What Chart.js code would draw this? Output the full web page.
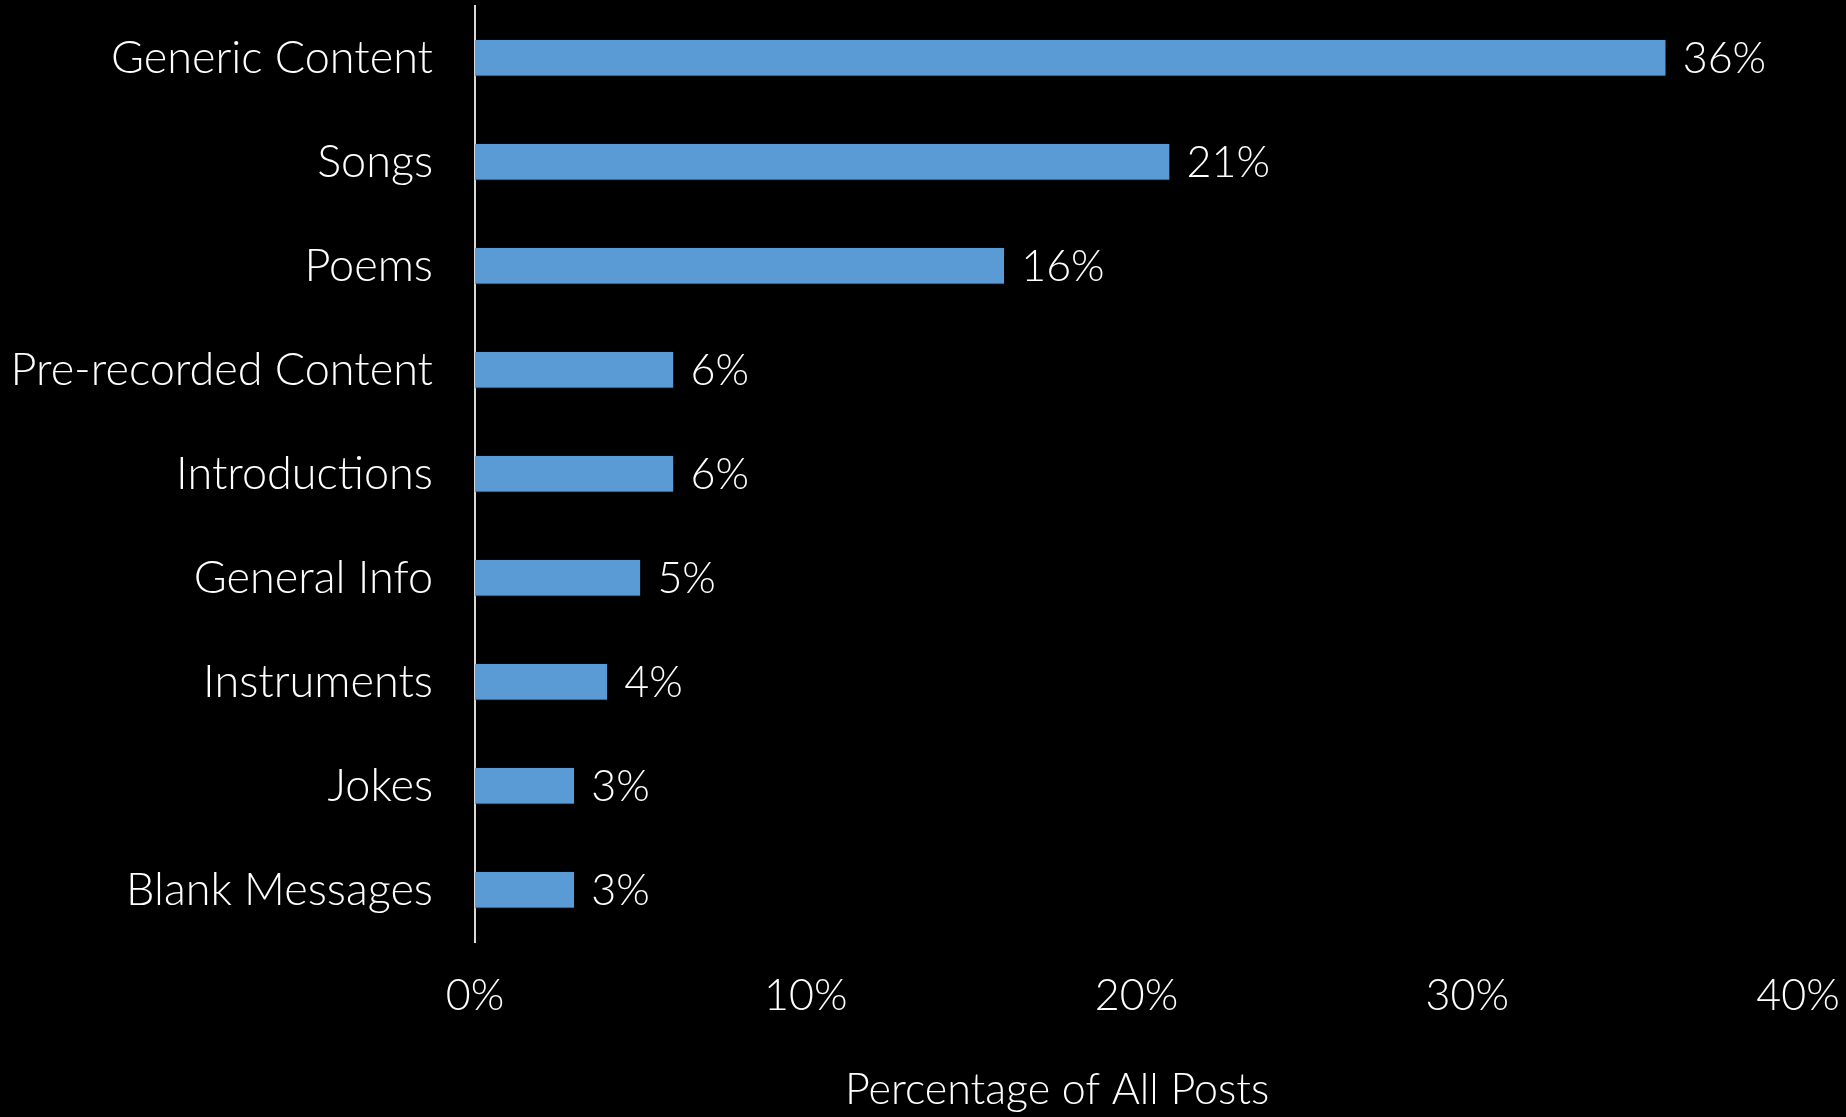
<!DOCTYPE html>
<html>
<head>
<meta charset="utf-8">
<script src="https://cdn.jsdelivr.net/npm/chart.js@4.4.0/dist/chart.umd.min.js"></script>
<style>
  html, body { margin: 0; padding: 0; background: #000; }
  canvas { display: block; }
</style>
</head>
<body>
<canvas id="postsChart" width="1846" height="1117"></canvas>
<script>
// post categories and their share of all posts (%)
const categories = [
    "Generic Content", "Songs", "Poems", "Pre-recorded Content", "Introductions",
    "General Info", "Instruments", "Jokes", "Blank Messages"
];
const shares = [36, 21, 16, 6, 6, 5, 4, 3, 3];
const xTicks = [0, 10, 20, 30, 40];
const axisTitle = "Percentage of All Posts";

const FONT = "Lato, 'Open Sans', sans-serif";

// percentage labels to the right of each bar
const barLabels = {
    id: 'barLabels',
    afterDatasetsDraw(chart) {
        const ctx = chart.ctx;
        const meta = chart.getDatasetMeta(0);
        ctx.save();
        ctx.font = `300 43px ${FONT}`;
        ctx.fillStyle = '#fff';
        ctx.textAlign = 'left';
        ctx.textBaseline = 'middle';
        meta.data.forEach((bar, i) => {
            ctx.fillText(shares[i] + '%', bar.x + 17, bar.y + 1);
        });
        ctx.restore();
    }
};

// x axis title, set a bit left of the axis centre
const xTitle = {
    id: 'xTitle',
    afterDraw(chart) {
        const ctx = chart.ctx;
        const x = chart.scales.x.getPixelForValue(17.6);
        ctx.save();
        ctx.font = `300 43px ${FONT}`;
        ctx.fillStyle = '#fff';
        ctx.textAlign = 'center';
        ctx.textBaseline = 'middle';
        ctx.fillText(axisTitle, x, 1090);
        ctx.restore();
    }
};

const ctx = document.getElementById('postsChart').getContext('2d');
const myChart = new Chart(ctx, {
    type: 'bar',
    data: {
        labels: categories,
        datasets: [{
            data: shares,
            backgroundColor: '#5b9bd5',
            borderColor: '#41719c',
            borderWidth: { top: 0, left: 0, right: 0, bottom: 1 },
            borderSkipped: false,
            categoryPercentage: 0.35,
            barPercentage: 1
        }]
    },
    options: {
        indexAxis: 'y',
        responsive: false,
        animation: false,
        layout: { padding: { top: 6, right: 48, left: 0, bottom: 0 } },
        plugins: {
            legend: { display: false },
            tooltip: { enabled: false }
        },
        scales: {
            x: {
                min: 0,
                max: 40,
                afterBuildTicks(scale) {
                    scale.ticks = xTicks.map(v => ({ value: v }));
                },
                afterFit(scale) {
                    scale.height = 175;
                    scale.paddingLeft = 0;
                    scale.paddingRight = 0;
                },
                grid: { display: false, drawTicks: false },
                border: { display: false },
                ticks: {
                    color: '#fff',
                    padding: 28,
                    maxRotation: 0,
                    font: { family: FONT, size: 43, weight: 300 },
                    callback: v => v + '%'
                }
            },
            y: {
                afterFit(scale) {
                    scale.width = 475;
                    scale.paddingTop = 0;
                    scale.paddingBottom = 0;
                },
                grid: { display: false, drawTicks: false },
                border: { display: true, color: '#d9d9d9', width: 2 },
                ticks: {
                    color: '#fff',
                    padding: 42,
                    font: { family: FONT, size: 45, weight: 300 }
                }
            }
        }
    },
    plugins: [barLabels, xTitle]
});
</script>
</body>
</html>
